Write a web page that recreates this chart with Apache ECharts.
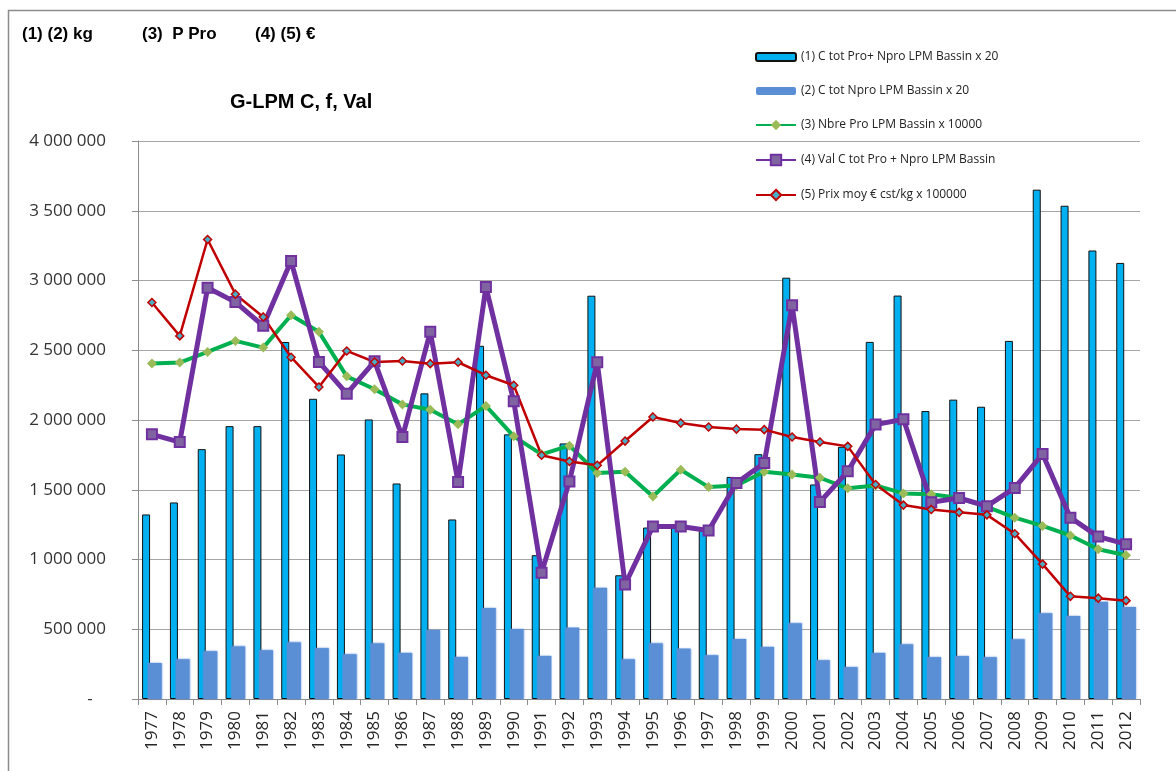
<!DOCTYPE html>
<html>
<head>
<meta charset="utf-8">
<script src="https://cdn.jsdelivr.net/npm/echarts@6/dist/echarts.min.js"></script>
<style>
  html, body { margin: 0; padding: 0; background: #fff; }
  #chart { width: 1176px; height: 771px; }
</style>
</head>
<body>
<div id="chart"></div>
<script>
// Years on the category axis
const years = ['1977','1978','1979','1980','1981','1982','1983','1984','1985','1986','1987','1988',
  '1989','1990','1991','1992','1993','1994','1995','1996','1997','1998','1999','2000',
  '2001','2002','2003','2004','2005','2006','2007','2008','2009','2010','2011','2012'];

// (1) C tot Pro+ Npro LPM Bassin x 20
const cTotProNpro = [1323000,1409000,1791000,1956000,1956000,2559000,2152000,1753000,2004000,1545000,
  2191000,1287000,2532000,1897000,1031000,1832000,2891000,887000,1229000,1234000,1225000,1592000,
  1755000,3020000,1538000,1808000,2560000,2892000,2064000,2146000,2095000,2567000,3651000,3536000,
  3215000,3126000];

// (2) C tot Npro LPM Bassin x 20
const cTotNpro = [258000,285000,343000,377000,350000,406000,365000,321000,399000,331000,495000,302000,
  652000,502000,309000,512000,797000,285000,399000,362000,314000,430000,374000,543000,278000,229000,
  331000,392000,300000,308000,300000,428000,615000,595000,697000,659000];

// (3) Nbre Pro LPM Bassin x 10000
const nbrePro = [2405000,2412000,2488000,2567000,2519000,2751000,2632000,2313000,2220000,2112000,
  2074000,1969000,2101000,1883000,1754000,1816000,1620000,1629000,1452000,1643000,1519000,1531000,
  1629000,1610000,1586000,1510000,1531000,1474000,1467000,1441000,1377000,1300000,1241000,1172000,
  1074000,1031000];

// (4) Val C tot Pro + Npro LPM Bassin
const valCTot = [1897000,1842000,2948000,2845000,2675000,3139000,2416000,2189000,2421000,1878000,
  2632000,1555000,2954000,2134000,905000,1560000,2414000,821000,1237000,1237000,1208000,1548000,
  1692000,2823000,1412000,1632000,1967000,2005000,1410000,1441000,1382000,1513000,1756000,1300000,
  1164000,1110000];

// (5) Prix moy € cst/kg x 100000
const prixMoy = [2842000,2603000,3294000,2902000,2739000,2450000,2237000,2495000,2416000,2423000,
  2404000,2414000,2321000,2249000,1747000,1703000,1675000,1849000,2022000,1978000,1950000,1935000,
  1931000,1878000,1842000,1811000,1538000,1390000,1359000,1338000,1320000,1185000,967000,736000,
  723000,705000];

const seriesNames = [
  '(1) C tot Pro+ Npro LPM Bassin x 20',
  '(2) C tot Npro LPM Bassin x 20',
  '(3) Nbre Pro LPM Bassin x 10000',
  '(4) Val C tot Pro + Npro LPM Bassin',
  '(5) Prix moy € cst/kg x 100000'
];

const yTicks = { min: 0, max: 4000000, interval: 500000 };

function spaced(v) {
  if (v === 0) return '-   ';
  return String(v).replace(/\B(?=(\d{3})+(?!\d))/g, ' ');
}

const chart = echarts.init(document.getElementById('chart'), null, { renderer: 'canvas' });

const labelFont = '"Open Sans", sans-serif';
const headFont = '"Liberation Sans", Arial, sans-serif';

chart.setOption({
  animation: false,
  backgroundColor: '#ffffff',
  graphic: [
    { type: 'rect', shape: { x: 8.5, y: 10.5, width: 1200, height: 800 },
      style: { fill: 'none', stroke: '#8c8c8c', lineWidth: 1.5 }, z: -10 },
    { type: 'text', left: 22, top: 26,
      style: { text: '(1) (2) kg', font: 'bold 17px ' + headFont, fill: '#000' } },
    { type: 'text', left: 142, top: 26,
      style: { text: '(3)  P Pro', font: 'bold 17px ' + headFont, fill: '#000' } },
    { type: 'text', left: 255, top: 26,
      style: { text: '(4) (5) €', font: 'bold 17px ' + headFont, fill: '#000' } },
    { type: 'text', left: 230, top: 92,
      style: { text: 'G-LPM C, f, Val', font: 'bold 20px ' + headFont, fill: '#000' } }
  ],
  legend: [
    {
      orient: 'vertical', left: 755, top: 50, padding: 0,
      itemWidth: 40, itemHeight: 8, itemGap: 20,
      textStyle: { fontFamily: labelFont, fontSize: 12, color: '#222', lineHeight: 14 },
      data: [seriesNames[0], seriesNames[1]]
    },
    {
      orient: 'vertical', left: 755, top: 118, padding: 0,
      itemWidth: 40, itemHeight: 13, itemGap: 21,
      textStyle: { fontFamily: labelFont, fontSize: 12, color: '#222', lineHeight: 14 },
      data: [seriesNames[2], seriesNames[3], seriesNames[4]]
    }
  ],
  grid: { left: 138, right: 36, top: 141, bottom: 72, containLabel: false },
  xAxis: {
    type: 'category',
    data: years,
    boundaryGap: true,
    axisLine: { lineStyle: { color: '#8c8c8c', width: 1 } },
    axisTick: { show: true, length: 6, lineStyle: { color: '#8c8c8c' } },
    axisLabel: { rotate: 90, margin: 12, interval: 0, fontFamily: labelFont, fontSize: 17, color: '#262626' },
    splitLine: { show: false }
  },
  yAxis: {
    type: 'value',
    min: yTicks.min, max: yTicks.max, interval: yTicks.interval,
    axisLine: { show: true, lineStyle: { color: '#8c8c8c', width: 1 } },
    axisTick: { show: true, length: 6, lineStyle: { color: '#8c8c8c' } },
    axisLabel: { margin: 32, fontFamily: labelFont, fontSize: 17, color: '#333', formatter: spaced },
    splitLine: { show: true, lineStyle: { color: '#a6a6a6', width: 1 } }
  },
  series: [
    {
      name: seriesNames[0], type: 'bar', data: cTotProNpro,
      barWidth: 8, barGap: '-29%',
      itemStyle: { color: '#00b0f0', borderColor: '#111', borderWidth: 1 }
    },
    {
      name: seriesNames[1], type: 'bar', data: cTotNpro,
      barWidth: 14,
      itemStyle: { color: '#5a8fd6', shadowBlur: 2, shadowColor: 'rgba(90,143,214,0.8)' }
    },
    {
      name: seriesNames[2], type: 'line', data: nbrePro,
      symbol: 'diamond', symbolSize: 10,
      lineStyle: { color: '#00b050', width: 4 },
      itemStyle: { color: '#9bbb59', borderColor: '#9bbb59', borderWidth: 0 }
    },
    {
      name: seriesNames[3], type: 'line', data: valCTot,
      symbol: 'rect', symbolSize: 10,
      lineStyle: { color: '#7030a0', width: 5 },
      itemStyle: { color: '#8064a2', borderColor: '#7030a0', borderWidth: 2 }
    },
    {
      name: seriesNames[4], type: 'line', data: prixMoy,
      symbol: 'diamond', symbolSize: 8,
      lineStyle: { color: '#c00000', width: 2.5 },
      itemStyle: { color: '#4bacc6', borderColor: '#c00000', borderWidth: 1.5 }
    }
  ]
});
</script>
</body>
</html>
